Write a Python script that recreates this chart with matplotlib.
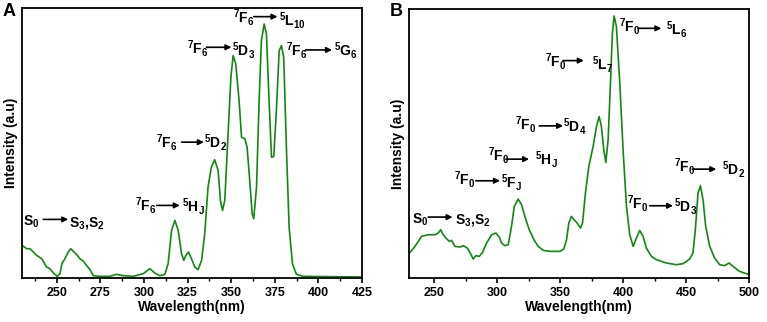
import numpy as np
import matplotlib
matplotlib.use('Agg')
import matplotlib.pyplot as plt

plt.rcParams['font.family'] = 'Liberation Sans'
plt.rcParams['font.weight'] = 'bold'
plt.rcParams['mathtext.fontset'] = 'custom'
plt.rcParams['mathtext.rm'] = 'Liberation Sans:bold'
plt.rcParams['mathtext.it'] = 'Liberation Sans:bold'
plt.rcParams['mathtext.bf'] = 'Liberation Sans:bold'
plt.rcParams['mathtext.default'] = 'rm'

# Panel A: excitation spectrum (wavelength nm, intensity a.u.)
wl_a = [230, 232.7, 234.6, 238.4, 241.3, 244.1, 246, 248, 250.2, 251.8, 252.9, 254.6,
        256.5, 258, 259.8, 261.7, 263.2, 265.1, 267, 269, 270.9, 274.7, 280.4, 284.2,
        288, 293.8, 299.5, 303.3, 306.2, 309, 311.9, 313.8, 315.8, 317.7, 319.6, 321.5,
        322.8, 324, 325.5, 327.2, 329.1, 331, 333, 334.8, 336.7, 338.6, 340.5, 342.5,
        343.8, 345, 346.3, 348.2, 349.8, 351.1, 352.6, 354.5, 355.9, 357.8, 359.1, 360.6,
        362, 362.9, 364.5, 366, 367.3, 368.9, 370.2, 371.7, 373.1, 374.4, 375.9, 377.5,
        378.8, 380.1, 381.7, 383.2, 385.1, 387.4, 391.2, 408.4, 425]
int_a = [98, 88, 88, 68, 58, 33, 28, 15, 5, 13, 43, 58,
         78, 88, 78, 68, 58, 51, 38, 25, 7, 5, 5, 11,
         7, 5, 13, 28, 15, 7, 11, 43, 143, 173, 143, 73,
         53, 68, 78, 58, 33, 25, 53, 133, 273, 333, 355, 323,
         233, 203, 233, 433, 603, 668, 643, 533, 423, 418, 393, 293,
         193, 178, 273, 533, 713, 763, 733, 533, 363, 365, 503, 683,
         698, 663, 383, 153, 43, 11, 5, 4, 3]

# Panel B
wl_b = [230, 234.8, 240, 245.3, 250.6, 253.3, 255.1, 257.2, 259.3, 262, 263.8, 266.5,
        270.5, 273.1, 276.3, 278.9, 281, 283.1, 285.8, 288.4, 291.6, 295.6, 299, 301.7,
        303.5, 306.1, 308.8, 311.4, 313.6, 316.7, 319.4, 322, 325.5, 329.2, 332.6, 336.6,
        341.8, 349.8, 352.9, 355.1, 356.9, 359, 361.1, 363.5, 366.2, 367.8, 370.1, 372.8,
        376.2, 378.9, 381, 382.8, 384.7, 386.3, 388.1, 390, 391.5, 392.9, 394.7, 397.4,
        400, 402.7, 405.3, 408, 410.6, 413.2, 415.9, 418.5, 422.5, 426.5, 434.4, 442.3,
        447.6, 452.9, 455.5, 457.4, 459.5, 461.4, 463.5, 465.6, 468.8, 472.7, 476.7, 480.6,
        484.1, 487.3, 492.5, 500]
int_b = [73, 95, 125, 130, 130, 135, 145, 130, 120, 110, 113, 95,
         93, 97, 90, 73, 57, 67, 65, 77, 105, 130, 135, 123,
         105, 97, 100, 155, 215, 237, 220, 185, 145, 115, 95, 83,
         80, 80, 87, 115, 165, 185, 175, 165, 150, 165, 255, 335,
         395, 455, 485, 455, 385, 347, 415, 585, 735, 787, 755, 585,
         385, 215, 130, 95, 120, 143, 125, 90, 65, 55, 45, 40,
         43, 57, 75, 145, 255, 277, 235, 155, 95, 60, 40, 37,
         45, 35, 20, 10]

# (left label, x, y, arrow x0, arrow x1, arrow y, right label, x, y)
notes_a = [
    (r'S$_0$', 230.8, 168, 242.2, 256.5, 176, r'S$_3$,S$_2$', 257.1, 165),
    (r'$^7$F$_6$', 294.7, 218, 307.2, 320.5, 218, r'$^5$H$_J$', 321.5, 215),
    (r'$^7$F$_6$', 306.8, 408, 321.5, 334.3, 408, r'$^5$D$_2$', 334.3, 408),
    (r'$^7$F$_6$', 324.4, 688, 335.8, 350.1, 693, r'$^5$D$_3$', 350.7, 683),
    (r'$^7$F$_6$', 351.1, 783, 362.9, 376.5, 785, r'$^5$L$_{10}$', 377.5, 773),
    (r'$^7$F$_6$', 381.3, 683, 392.7, 407.8, 685, r'$^5$G$_6$', 408.8, 683),
]
notes_b = [
    (r'S$_0$', 232.1, 175, 245.3, 264.6, 183, r'S$_3$,S$_2$', 266.5, 175),
    (r'$^7$F$_0$', 266, 295, 283.1, 302.2, 292, r'$^5$F$_J$', 303, 287),
    (r'$^7$F$_0$', 292.4, 367, 306.9, 325.4, 357, r'$^5$H$_J$', 330.2, 355),
    (r'$^7$F$_0$', 314.3, 460, 333.4, 352.4, 457, r'$^5$D$_4$', 352.4, 455),
    (r'$^7$F$_0$', 338.1, 650, 352.4, 368.8, 653, r'$^5$L$_7$', 375.4, 640),
    (r'$^7$F$_0$', 396.8, 755, 411.9, 430.4, 750, r'$^5$L$_6$', 434.4, 745),
    (r'$^7$F$_0$', 403.4, 225, 421.2, 439.7, 217, r'$^5$D$_3$', 440.5, 215),
    (r'$^7$F$_0$', 440.5, 335, 455, 474, 327, r'$^5$D$_2$', 478.8, 325),
]

fig = plt.figure(figsize=(7.67, 3.22), dpi=100)
ax_a = fig.add_axes([22/767, 44/322, 340/767, 270/322])
ax_b = fig.add_axes([409/767, 44/322, 340/767, 269/322])


def draw_panel(ax, wl, inten, notes, xlim, ylim, major, minor):
    ax.plot(wl, inten, color='#118811', lw=1.2)
    ax.set_xlim(*xlim)
    ax.set_ylim(*ylim)
    ax.set_xticks(np.arange(xlim[0] + (major - xlim[0] % major) % major, xlim[1] + 0.1, major))
    ax.set_xticks(np.arange(xlim[0] + (minor - xlim[0] % minor) % minor, xlim[1] + 0.1, minor), minor=True)
    ax.set_yticks([])
    ax.tick_params(axis='x', which='major', direction='out', length=3.5, width=1.2,
                   labelsize=9, pad=3)
    ax.tick_params(axis='x', which='minor', direction='out', length=2, width=1)
    for lab in ax.get_xticklabels():
        lab.set_fontweight('bold')
    for s in ax.spines.values():
        s.set_linewidth(1.3)
    ax.set_xlabel('Wavelength(nm)', fontsize=10, fontweight='bold', labelpad=1)
    ax.set_ylabel('Intensity (a.u)', fontsize=10, fontweight='bold', labelpad=3)
    for lt, lx, ly, a0, a1, ay, rt, rx, ry in notes:
        ax.text(lx, ly, lt, fontsize=10, fontweight='bold', ha='left', va='center')
        ax.annotate('', xy=(a1, ay), xytext=(a0, ay),
                    arrowprops=dict(arrowstyle='-|>', color='black', lw=1.2,
                                    mutation_scale=8, shrinkA=0, shrinkB=0))
        ax.text(rx, ry, rt, fontsize=10, fontweight='bold', ha='left', va='center')


draw_panel(ax_a, wl_a, int_a, notes_a, (230, 425), (0, 811), 25, 12.5)
draw_panel(ax_b, wl_b, int_b, notes_b, (230, 500), (0, 808), 50, 25)

fig.text(9/767, 1 - 12/322, 'A', fontsize=13, fontweight='bold', ha='center', va='center')
fig.text(396/767, 1 - 12/322, 'B', fontsize=13, fontweight='bold', ha='center', va='center')

fig.savefig('out.png', dpi=100)
